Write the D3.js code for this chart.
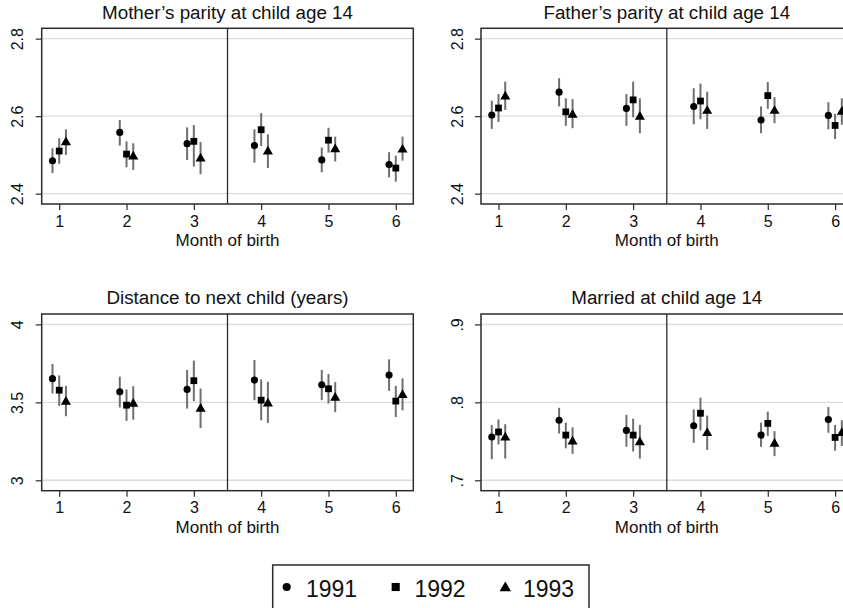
<!DOCTYPE html>
<html>
<head>
<meta charset="utf-8">
<script src="https://cdn.jsdelivr.net/npm/d3@7"></script>
<style>
  html, body { margin: 0; padding: 0; background: #fff; overflow: hidden; }
  svg { display: block; font-family: "Liberation Sans", Arial, sans-serif; }
</style>
</head>
<body>
<svg id="chart" width="843" height="608"></svg>
<script>
// ---------- data ----------
const months = [1, 2, 3, 4, 5, 6];
const years = ["1991", "1992", "1993"];
const yearOffsets = [-0.1, 0, 0.1];
const symbols = ["circle", "square", "triangle"];

const panelTitles = [
  "Mother\u2019s parity at child age 14",
  "Father\u2019s parity at child age 14",
  "Distance to next child (years)",
  "Married at child age 14"
];
const xAxisTitle = "Month of birth";

// Mother's parity (rows: 1991, 1992, 1993)
const motherEst = [
  [2.485, 2.558, 2.529, 2.524, 2.487, 2.475],
  [2.510, 2.502, 2.535, 2.565, 2.538, 2.466],
  [2.535, 2.498, 2.493, 2.511, 2.517, 2.516]
];
const motherLo = [
  [2.453, 2.524, 2.487, 2.480, 2.455, 2.442],
  [2.477, 2.468, 2.470, 2.523, 2.506, 2.431],
  [2.500, 2.461, 2.450, 2.466, 2.483, 2.485]
];
const motherHi = [
  [2.517, 2.590, 2.571, 2.566, 2.519, 2.507],
  [2.543, 2.535, 2.577, 2.608, 2.570, 2.498],
  [2.566, 2.530, 2.533, 2.553, 2.547, 2.547]
];
const motherTicks = [2.4, 2.6, 2.8];
const motherTickLabels = ["2.4", "2.6", "2.8"];

// Father's parity
const fatherEst = [
  [2.603, 2.662, 2.620, 2.625, 2.590, 2.602],
  [2.621, 2.611, 2.642, 2.639, 2.653, 2.576],
  [2.653, 2.606, 2.601, 2.616, 2.616, 2.614]
];
const fatherLo = [
  [2.567, 2.625, 2.575, 2.579, 2.556, 2.566],
  [2.585, 2.575, 2.597, 2.592, 2.619, 2.541],
  [2.616, 2.569, 2.556, 2.567, 2.582, 2.578]
];
const fatherHi = [
  [2.640, 2.698, 2.657, 2.672, 2.625, 2.636],
  [2.657, 2.646, 2.689, 2.684, 2.688, 2.606],
  [2.689, 2.644, 2.646, 2.663, 2.649, 2.646]
];
const fatherTicks = [2.4, 2.6, 2.8];
const fatherTickLabels = ["2.4", "2.6", "2.8"];

// Distance to next child (years)
const distEst = [
  [3.652, 3.568, 3.583, 3.643, 3.613, 3.675],
  [3.578, 3.482, 3.639, 3.514, 3.587, 3.508],
  [3.510, 3.497, 3.465, 3.499, 3.535, 3.553]
];
const distLo = [
  [3.557, 3.467, 3.460, 3.514, 3.514, 3.574],
  [3.477, 3.381, 3.508, 3.385, 3.492, 3.406],
  [3.411, 3.389, 3.335, 3.368, 3.437, 3.449]
];
const distHi = [
  [3.746, 3.665, 3.708, 3.772, 3.708, 3.776],
  [3.673, 3.583, 3.768, 3.647, 3.682, 3.606],
  [3.606, 3.604, 3.589, 3.632, 3.630, 3.654]
];
const distTicks = [3, 3.5, 4];
const distTickLabels = ["3", "3.5", "4"];

// Married at child age 14
const marriedEst = [
  [0.7555, 0.777, 0.764, 0.770, 0.758, 0.778],
  [0.762, 0.758, 0.758, 0.786, 0.773, 0.755],
  [0.756, 0.751, 0.750, 0.762, 0.748, 0.762]
];
const marriedLo = [
  [0.727, 0.760, 0.743, 0.748, 0.743, 0.761],
  [0.746, 0.741, 0.737, 0.764, 0.757, 0.738],
  [0.728, 0.734, 0.728, 0.739, 0.731, 0.744]
];
const marriedHi = [
  [0.771, 0.793, 0.784, 0.791, 0.774, 0.794],
  [0.778, 0.774, 0.779, 0.806, 0.788, 0.771],
  [0.772, 0.768, 0.771, 0.783, 0.763, 0.777]
];
const marriedTicks = [0.7, 0.8, 0.9];
const marriedTickLabels = [".7", ".8", ".9"];

const cutoffMonth = 3.5;

// ---------- drawing ----------
const svg = d3.select("#chart");
const FRAME = "#2b2b2b";
const GRID = "#dcdcdc";
const CI = "#6f6f6f";

function symbolPath(type, size) {
  const t = type === "circle" ? d3.symbolCircle : type === "square" ? d3.symbolSquare : d3.symbolTriangle;
  return d3.symbol().type(t).size(size)();
}

function drawPanel(opt) {
  const { x0, x1, y0, y1, title, est, lo, hi, ticks, tickLabels } = opt;
  const g = svg.append("g");
  const first = ticks[0], last = ticks[ticks.length - 1];
  const pad = (last - first) * 0.0668;
  const x = d3.scaleLinear().domain([0.74, 6.26]).range([x0, x1]);
  const y = d3.scaleLinear().domain([first - pad, last + pad]).range([y1, y0]);

  // grid
  g.selectAll("line.grid").data(ticks).enter().append("line")
    .attr("x1", x0).attr("x2", x1)
    .attr("y1", d => y(d)).attr("y2", d => y(d))
    .attr("stroke", GRID).attr("stroke-width", 1.4);

  // cutoff line
  g.append("line")
    .attr("x1", x(cutoffMonth)).attr("x2", x(cutoffMonth))
    .attr("y1", y0).attr("y2", y1)
    .attr("stroke", FRAME).attr("stroke-width", 1.3);

  // y axis
  const yAxis = d3.axisLeft(y).tickValues(ticks).tickFormat((d, i) => tickLabels[i]).tickSizeOuter(0).tickSize(6).tickPadding(0);
  const ya = g.append("g").attr("transform", `translate(${x0},0)`).call(yAxis);
  ya.select(".domain").remove();
  ya.selectAll(".tick line").attr("stroke", FRAME).attr("stroke-width", 1.2);
  ya.selectAll(".tick text")
    .attr("font-size", 16).attr("fill", "#111")
    .attr("font-family", "Liberation Sans, Arial, sans-serif")
    .attr("text-anchor", "middle")
    .attr("transform", "rotate(-90)")
    .attr("x", 0).attr("y", -18.5).attr("dy", 0);

  // x axis
  const xAxis = d3.axisBottom(x).tickValues(months).tickFormat(d3.format("d")).tickSizeOuter(0).tickSize(6).tickPadding(0);
  const xa = g.append("g").attr("transform", `translate(0,${y1})`).call(xAxis);
  xa.select(".domain").remove();
  xa.selectAll(".tick line").attr("stroke", FRAME).attr("stroke-width", 1.2);
  xa.selectAll(".tick text")
    .attr("font-size", 16).attr("fill", "#111")
    .attr("font-family", "Liberation Sans, Arial, sans-serif")
    .attr("y", 22.7).attr("dy", 0);

  // frame
  g.append("rect")
    .attr("x", x0).attr("y", y0).attr("width", x1 - x0).attr("height", y1 - y0)
    .attr("fill", "none").attr("stroke", FRAME).attr("stroke-width", 1.5);

  // title
  g.append("text")
    .attr("x", (x0 + x1) / 2).attr("y", y0 - 9.8)
    .attr("text-anchor", "middle").attr("font-size", 18.8).attr("fill", "#111")
    .text(title);

  // axis title
  g.append("text")
    .attr("x", (x0 + x1) / 2).attr("y", y1 + 42)
    .attr("text-anchor", "middle").attr("font-size", 17).attr("fill", "#111")
    .text(xAxisTitle);

  // series
  years.forEach((yr, s) => {
    const data = months.map((m, i) => ({ m, e: est[s][i], l: lo[s][i], h: hi[s][i] }));
    const sg = g.append("g");
    sg.selectAll("line").data(data).enter().append("line")
      .attr("x1", d => x(d.m + yearOffsets[s])).attr("x2", d => x(d.m + yearOffsets[s]))
      .attr("y1", d => y(d.l)).attr("y2", d => y(d.h))
      .attr("stroke", CI).attr("stroke-width", 2);
    const size = symbols[s] === "circle" ? 40 : symbols[s] === "square" ? 46 : 44;
    const dyOff = symbols[s] === "triangle" ? 1 : 0;
    sg.selectAll("path").data(data).enter().append("path")
      .attr("d", symbolPath(symbols[s], size))
      .attr("transform", d => `translate(${x(d.m + yearOffsets[s])},${y(d.e) + dyOff})`)
      .attr("fill", "#000");
  });
}

const colX = [[41.7, 413.3], [481, 852.6]];
const rowY = [[28.3, 204], [314, 490.7]];

drawPanel({ x0: colX[0][0], x1: colX[0][1], y0: rowY[0][0], y1: rowY[0][1], title: panelTitles[0],
  est: motherEst, lo: motherLo, hi: motherHi, ticks: motherTicks, tickLabels: motherTickLabels });
drawPanel({ x0: colX[1][0], x1: colX[1][1], y0: rowY[0][0], y1: rowY[0][1], title: panelTitles[1],
  est: fatherEst, lo: fatherLo, hi: fatherHi, ticks: fatherTicks, tickLabels: fatherTickLabels });
drawPanel({ x0: colX[0][0], x1: colX[0][1], y0: rowY[1][0], y1: rowY[1][1], title: panelTitles[2],
  est: distEst, lo: distLo, hi: distHi, ticks: distTicks, tickLabels: distTickLabels });
drawPanel({ x0: colX[1][0], x1: colX[1][1], y0: rowY[1][0], y1: rowY[1][1], title: panelTitles[3],
  est: marriedEst, lo: marriedLo, hi: marriedHi, ticks: marriedTicks, tickLabels: marriedTickLabels });

// legend
const legend = svg.append("g");
legend.append("rect")
  .attr("x", 272.7).attr("y", 565).attr("width", 316.3).attr("height", 60)
  .attr("fill", "#fff").attr("stroke", FRAME).attr("stroke-width", 1.5);
const legMarkX = [286.7, 395.7, 505.3];
const legTextX = [306, 414.5, 523];
const legSizes = [52, 66, 56];
years.forEach((yr, s) => {
  legend.append("path")
    .attr("d", symbolPath(symbols[s], legSizes[s]))
    .attr("transform", `translate(${legMarkX[s]},${587 + (symbols[s] === "triangle" ? 1 : 0)})`)
    .attr("fill", "#000");
  legend.append("text")
    .attr("x", legTextX[s]).attr("y", 596.5)
    .attr("font-size", 23).attr("fill", "#111")
    .text(yr);
});
</script>
</body>
</html>
